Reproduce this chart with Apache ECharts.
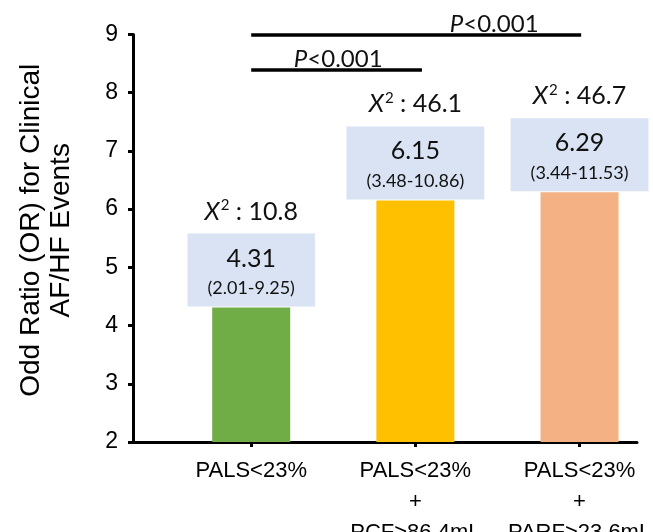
<!DOCTYPE html>
<html>
<head>
<meta charset="utf-8">
<script src="https://cdn.jsdelivr.net/npm/echarts@6/dist/echarts.min.js"></script>
<style>html,body{margin:0;padding:0;background:#fff}#c{width:653px;height:532px}</style>
</head>
<body>
<div id="c"></div>
<script>
// ---- data ----
const categories = ['PALS<23%', 'PALS<23%\n+\nPCF>86.4mL', 'PALS<23%\n+\nPARF>23.6mL'];
const positions = [1, 2, 3];
const oddsRatios = [4.31, 6.15, 6.29];
const ciLabels = ['(2.01-9.25)', '(3.48-10.86)', '(3.44-11.53)'];
const chiSquare = ['10.8', '46.1', '46.7'];
const yTicks = [2, 3, 4, 5, 6, 7, 8, 9];
// significance brackets: [xStart, xEnd, y]
const pLines = [[1, 3.01, 9], [1, 2.04, 8.4]];
const pLabels = ['0.001', '0.001'];
const pLabelPos = [[2.48, 9], [1.53, 8.4]];

// ---- styles ----
const barColors = ['#70AD47', '#FFC000', '#F4B183'];
const boxColor = '#DAE3F3';
const calibri = 'Lato, "Open Sans", sans-serif';
const arial = '"Liberation Sans", Arial, sans-serif';
const ink = '#111';

const chart = echarts.init(document.getElementById('c'));
chart.setOption({
  animation: false,
  grid: { left: 133, top: 34.5, right: 16, bottom: 90, outerBoundsMode: 'none', containLabel: false },
  xAxis: {
    type: 'value', min: 0.28, max: 3.35,
    splitLine: { show: false },
    axisLine: { onZero: false, lineStyle: { color: '#000', width: 3 } },
    axisTick: { customValues: positions, length: 5, lineStyle: { color: '#000', width: 3 } },
    axisLabel: {
      customValues: positions, margin: 13,
      formatter: v => categories[Math.round(v) - 1],
      color: '#000', fontSize: 22, fontFamily: arial, lineHeight: 31
    }
  },
  yAxis: {
    type: 'value', min: yTicks[0], max: yTicks[yTicks.length - 1], interval: 1,
    splitLine: { show: false },
    axisLine: { show: true, onZero: false, lineStyle: { color: '#000', width: 3 } },
    axisTick: { show: true, length: 5, lineStyle: { color: '#000', width: 3 } },
    axisLabel: { color: '#000', fontSize: 23, fontFamily: arial, margin: 15 },
    name: 'Odd Ratio (OR) for Clinical\nAF/HF Events',
    nameLocation: 'middle', nameRotate: 90, nameGap: 57,
    nameTextStyle: { color: '#000', fontSize: 28, fontFamily: arial, lineHeight: 30, padding: [0, 0, 0, 16] }
  },
  series: [
    {
      type: 'bar', barWidth: 78, clip: true,
      data: positions.map((p, i) => ({ value: [p, oddsRatios[i]], itemStyle: { color: barColors[i] } })),
      label: {
        show: true, position: 'top', distance: 1,
        backgroundColor: boxColor, padding: [4, 20, 9, 20],
        formatter: p => '{a|' + oddsRatios[p.dataIndex].toFixed(2) + '}\n{b|' + ciLabels[p.dataIndex] + '}',
        rich: {
          a: { fontSize: 25, lineHeight: 42, fontFamily: calibri, color: ink, align: 'center' },
          b: { fontSize: 18, lineHeight: 18, fontFamily: calibri, color: ink, align: 'center' }
        }
      },
      markLine: {
        silent: true, symbol: 'none', label: { show: false },
        lineStyle: { color: '#000', width: 3.5, type: 'solid' },
        data: pLines.map(l => [{ coord: [l[0], l[2]] }, { coord: [l[1], l[2]] }])
      }
    },
    {
      type: 'scatter', symbolSize: 0, clip: false, itemStyle: { opacity: 1 },
      data: positions.map((p, i) => [p, oddsRatios[i]]),
      label: {
        show: true, position: 'top', distance: 82,
        formatter: p => '{x|X}{s|2}{t| : ' + chiSquare[p.dataIndex] + '}',
        rich: {
          x: { fontSize: 25, fontStyle: 'italic', fontFamily: calibri, color: ink, lineHeight: 28 },
          s: { fontSize: 15, fontFamily: calibri, color: ink, verticalAlign: 'top', lineHeight: 28, padding: [0, 0, 8, 1] },
          t: { fontSize: 25, fontFamily: calibri, color: ink, lineHeight: 28 }
        }
      }
    },
    {
      type: 'scatter', symbolSize: 0, clip: false, itemStyle: { opacity: 1 },
      data: pLabelPos.map(p => [p[0], p[1]]),
      label: {
        show: true, position: 'top', distance: -1,
        formatter: p => '{p|P}{t|<' + pLabels[p.dataIndex] + '}',
        rich: {
          p: { fontSize: 24, fontStyle: 'italic', fontFamily: calibri, color: ink, lineHeight: 22 },
          t: { fontSize: 24, fontFamily: calibri, color: ink, lineHeight: 22 }
        }
      }
    }
  ]
});
</script>
</body>
</html>
